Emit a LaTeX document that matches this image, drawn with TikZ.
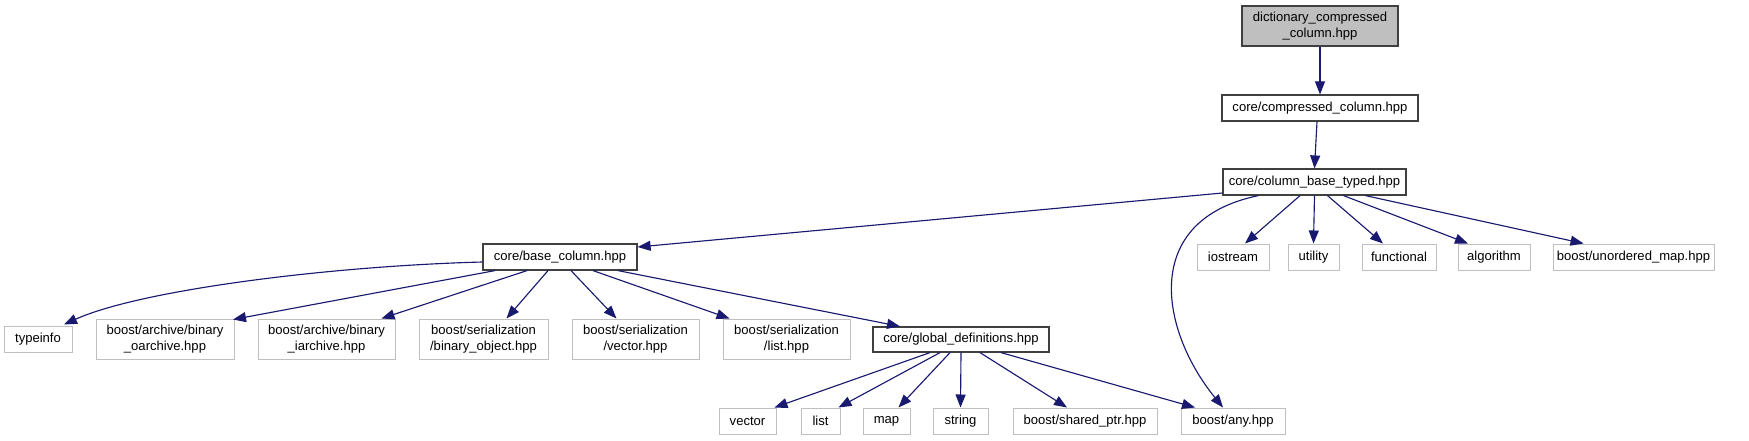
\documentclass[tikz,border=0pt]{standalone}
\usepackage{fontspec}
\setmainfont{Liberation Sans}
\usetikzlibrary{arrows.meta,calc}
\definecolor{edgec}{HTML}{191970}
\definecolor{darkb}{HTML}{404040}
\definecolor{lightb}{HTML}{BFBFBF}
\definecolor{rootfill}{HTML}{BFBFBF}
\begin{document}
\begin{tikzpicture}[x=0.75pt,y=-0.75pt,
  nodebase/.style={inner sep=0pt, minimum height=19.5pt, align=center, font=\fontsize{9.8}{12}\selectfont, line width=0.75pt},
  filebox/.style={nodebase, draw=darkb, line width=0.9pt},
  extbox/.style={nodebase, draw=lightb},
  rootbox/.style={filebox, fill=rootfill},
  dep/.style={draw=edgec, line width=0.85pt, -{Triangle[length=9.75pt,width=7.5pt]}}]
\useasboundingbox (0,0) rectangle (1749,440);
% nodes
\node[rootbox, minimum width=117pt, minimum height=30pt] (dict) at (1320,26) {dictionary\_compressed\\\_column.hpp};
\node[filebox, minimum width=147pt] (cc) at (1320,108) {core/compressed\_column.hpp};
\node[filebox, minimum width=137.25pt] (cbt) at (1314.5,182) {core/column\_base\_typed.hpp};
\node[filebox, minimum width=115.5pt] (bc) at (560,257) {core/base\_column.hpp};
\node[extbox, minimum width=54pt] (iostream) at (1233,257) {iostream};
\node[extbox, minimum width=38.25pt] (utility) at (1313.5,257) {utility};
\node[extbox, minimum width=55.5pt] (functional) at (1399,257) {functional};
\node[extbox, minimum width=54pt] (algorithm) at (1494,257) {algorithm};
\node[extbox, minimum width=120.75pt] (unordered) at (1633.5,257) {boost/unordered\_map.hpp};
\node[extbox, minimum width=51pt] (typeinfo) at (38,339) {typeinfo};
\node[extbox, minimum width=103.5pt, minimum height=30pt] (oarchive) at (165,339) {boost/archive/binary\\\_oarchive.hpp};
\node[extbox, minimum width=102.75pt, minimum height=30pt] (iarchive) at (326.5,339) {boost/archive/binary\\\_iarchive.hpp};
\node[extbox, minimum width=96.75pt, minimum height=30pt] (binobj) at (483.5,339) {boost/serialization\\/binary\_object.hpp};
\node[extbox, minimum width=95.25pt, minimum height=30pt] (vectorhpp) at (635.5,339) {boost/serialization\\/vector.hpp};
\node[extbox, minimum width=95.25pt, minimum height=30pt] (listhpp) at (786.5,339) {boost/serialization\\/list.hpp};
\node[filebox, minimum width=132pt, minimum height=18.75pt] (gd) at (961,339.5) {core/global\_definitions.hpp};
\node[extbox, minimum width=42.75pt] (vector) at (747.5,421) {vector};
\node[extbox, minimum width=29.25pt] (list) at (820.5,421) {list};
\node[extbox, minimum width=35.25pt] (map) at (886.5,421) {map};
\node[extbox, minimum width=41.25pt] (string) at (960.5,421) {string};
\node[extbox, minimum width=108pt] (shared) at (1085,421) {boost/shared\_ptr.hpp};
\node[extbox, minimum width=78pt] (any) at (1233,421) {boost/any.hpp};
% edges
\draw[dep] (dict.south) -- (cc.north);
\draw[dep] ($(cc.south)+(-3,0)$) -- ($(cbt.north)+(0,0)$);
\draw[dep] ($(cbt.west)+(0,11)$) -- ($(bc.east)+(0,-10)$);
\draw[dep] ($(cbt.south)+(-14.5,0)$) -- ($(iostream.north)+(12,0)$);
\draw[dep] (cbt.south) -- (utility.north);
\draw[dep] ($(cbt.south)+(13,0)$) -- ($(functional.north)+(-16,0)$);
\draw[dep] ($(cbt.south)+(29,0)$) -- ($(algorithm.north)+(-26,0)$);
\draw[dep] ($(cbt.south)+(51,0)$) -- ($(unordered.north)+(-50,0)$);
\draw[dep] ($(cbt.south)+(-56,0)$) .. controls (1140,220) and (1160,330) .. ($(any.north)+(-10,0)$);
\draw[dep] ($(bc.west)+(0,5)$) .. controls (330,266) and (140,290) .. ($(typeinfo.north)+(26,-1)$);
\draw[dep] ($(bc.south)+(-65,0)$) -- ($(oarchive.north)+(68,1)$);
\draw[dep] ($(bc.south)+(-33,0)$) -- ($(iarchive.north)+(55,0)$);
\draw[dep] ($(bc.south)+(-12,0)$) -- ($(binobj.north)+(23,0)$);
\draw[dep] ($(bc.south)+(11,0)$) -- ($(vectorhpp.north)+(-19,0)$);
\draw[dep] ($(bc.south)+(33,0)$) -- ($(listhpp.north)+(-57,0)$);
\draw[dep] ($(bc.south)+(58,0)$) -- ($(gd.north)+(-61,0)$);
\draw[dep] ($(gd.south)+(-31,0)$) -- ($(vector.north)+(27,0)$);
\draw[dep] ($(gd.south)+(-21,0)$) -- ($(list.north)+(18,0)$);
\draw[dep] ($(gd.south)+(-11,0)$) -- ($(map.north)+(12,0)$);
\draw[dep] (gd.south) -- (string.north);
\draw[dep] ($(gd.south)+(19,0)$) -- ($(shared.north)+(-18,0)$);
\draw[dep] ($(gd.south)+(40,0)$) -- ($(any.north)+(-38,0)$);
\end{tikzpicture}
\end{document}
